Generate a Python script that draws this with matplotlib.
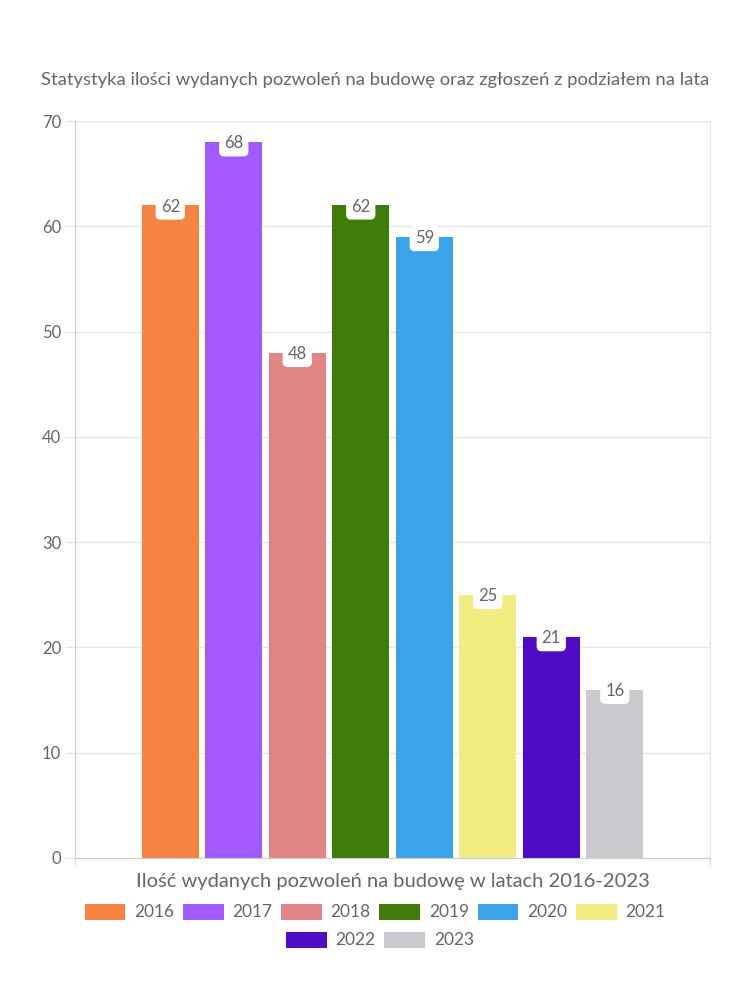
import matplotlib.pyplot as plt
from matplotlib.patches import Patch

years = ["2016", "2017", "2018", "2019", "2020", "2021", "2022", "2023"]
permits = [62, 68, 48, 62, 59, 25, 21, 16]
colors = ["#F58442", "#A259FF", "#E08585", "#3F7D0B",
          "#3AA3EA", "#F0EC7F", "#500BC4", "#C9CACD"]

title = "Statystyka ilości wydanych pozwoleń na budowę oraz zgłoszeń z podziałem na lata"
xlabel = "Ilość wydanych pozwoleń na budowę w latach 2016-2023"

plt.rcParams["font.family"] = ["Lato", "DejaVu Sans"]
TXT = "#666666"
GRID = "#e6e6e6"

fig = plt.figure(figsize=(7.5, 10), dpi=100)
ax = fig.add_axes([0.1, 0.142, 0.8467, 0.737])

step = 0.1
width = 0.09
for i, (y, v, c) in enumerate(zip(years, permits, colors)):
    x = (i - 3.5) * step
    ax.bar(x, v, width=width, color=c, zorder=2)
    ax.annotate(str(v), (x, v), xytext=(0, -1), textcoords="offset points",
                ha="center", va="center", fontsize=12, color=TXT, zorder=4,
                bbox=dict(boxstyle="round,pad=0.3,rounding_size=0.3",
                          fc="white", ec="none"))

ax.set_xlim(-0.5, 0.5)
ax.set_ylim(0, 70)
ax.set_yticks(range(0, 71, 10))
ax.set_xticks([-0.5, 0.5])
ax.set_xticklabels(["", ""])
ax.tick_params(axis="y", colors=GRID, labelcolor=TXT, labelsize=12,
               length=7, width=1, pad=3)
ax.tick_params(axis="x", colors=GRID, length=6, width=1)
ax.yaxis.grid(True, color=GRID, linewidth=1, zorder=0)
ax.set_axisbelow(True)
for side in ["left", "bottom"]:
    ax.spines[side].set_color("#cccccc")
for side in ["right", "top"]:
    ax.spines[side].set_color(GRID)
ax.spines["top"].set_visible(False)

ax.set_xlabel(xlabel, fontsize=14.5, color=TXT, labelpad=1)
fig.text(375 / 750, 1 - 80 / 1000, title, ha="center", va="center",
         fontsize=13.2, color=TXT)

handles = [Patch(facecolor=c, edgecolor="none") for c in colors]
leg_kw = dict(frameon=False, fontsize=12.5, handlelength=2.35, handleheight=1.05,
              handletextpad=0.5, columnspacing=0.5, labelcolor=TXT,
              borderaxespad=0, borderpad=0)
leg1 = fig.legend(handles[:6], years[:6], ncol=6, loc="center",
                  bbox_to_anchor=(375 / 750, 1 - 912 / 1000), **leg_kw)
leg2 = fig.legend(handles[6:], years[6:], ncol=2, loc="center",
                  bbox_to_anchor=(380 / 750, 1 - 940 / 1000), **leg_kw)

fig.savefig("out.png", dpi=100)
